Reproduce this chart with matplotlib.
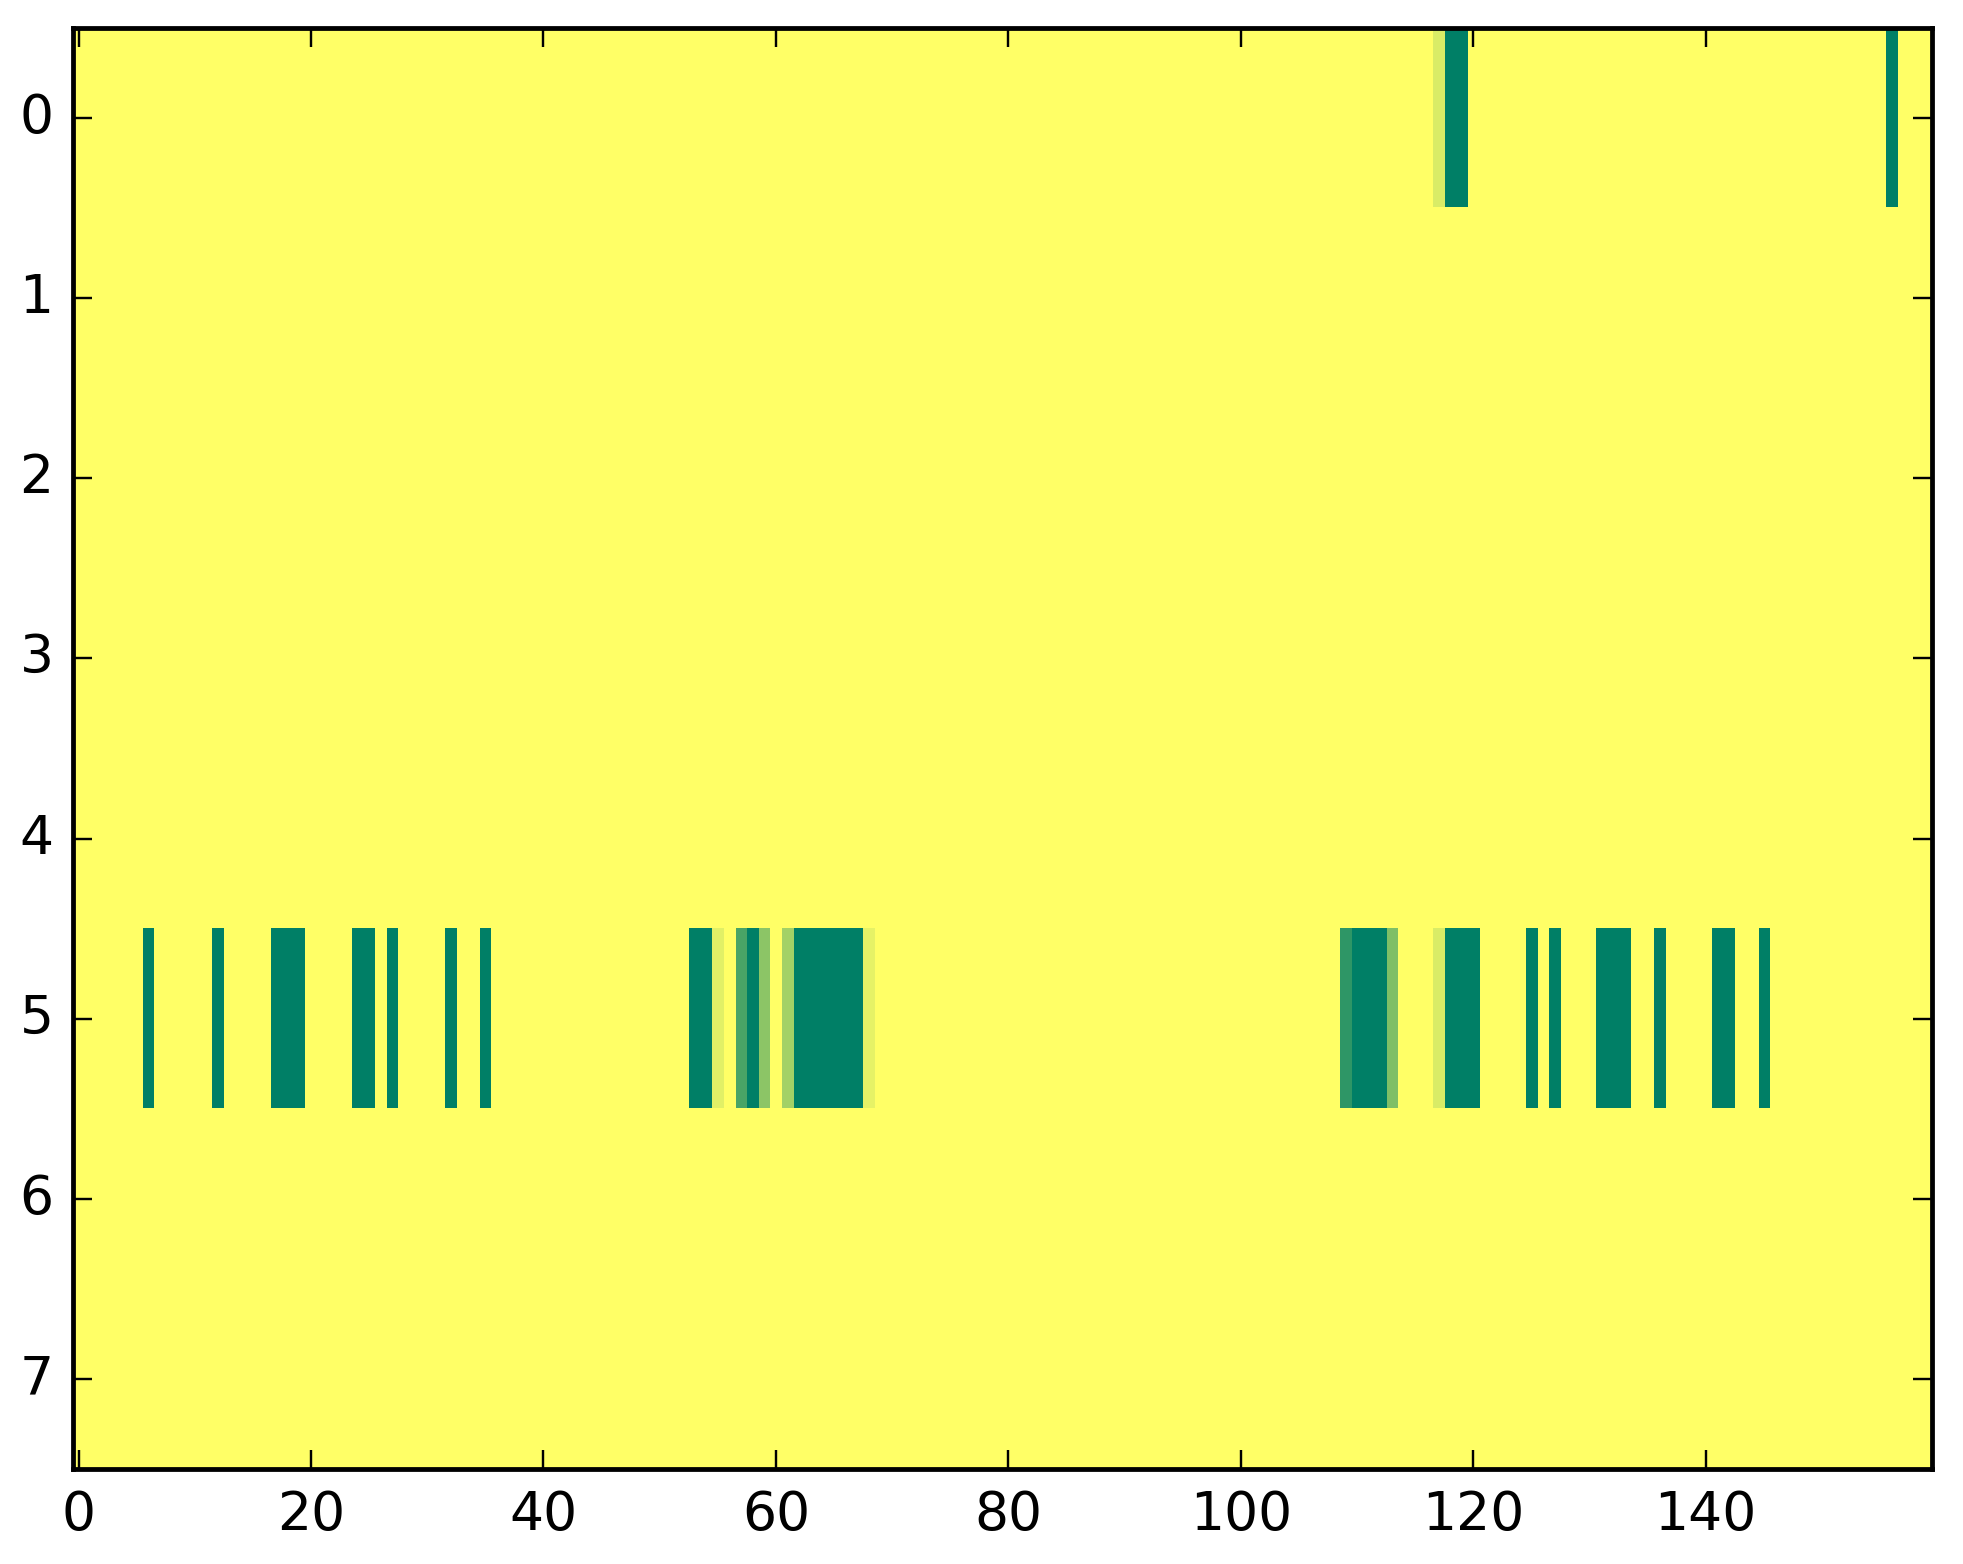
import numpy as np
import matplotlib
matplotlib.use("Agg")
import matplotlib.pyplot as plt

plt.style.use("classic")

n_rows = 8
n_cols = 160

# (row, column, value) of non-zero cells
row0_cols = [117, 118, 119, 156]
row0_vals = [0.15, 1.0, 1.0, 1.0]

row5_cols = [6, 12, 17, 18, 19, 24, 25, 27, 32, 35,
             53, 54, 55, 57, 58, 59, 61, 62, 63, 64, 65, 66, 67, 68,
             109, 110, 111, 112, 113, 117, 118, 119, 120,
             125, 127, 131, 132, 133, 136, 141, 142, 145]
row5_vals = [1.0, 1.0, 1.0, 1.0, 1.0, 1.0, 1.0, 1.0, 1.0, 1.0,
             1.0, 1.0, 0.12, 0.71, 1.0, 0.45, 0.36, 1.0, 1.0, 1.0, 1.0, 1.0, 1.0, 0.10,
             0.82, 1.0, 1.0, 1.0, 0.50, 0.15, 1.0, 1.0, 1.0,
             1.0, 1.0, 1.0, 1.0, 1.0, 1.0, 1.0, 1.0, 1.0]

data = np.zeros((n_rows, n_cols))
data[0, row0_cols] = row0_vals
data[5, row5_cols] = row5_vals

dpi = 345
fig = plt.figure(figsize=(1963 / dpi, 1564 / dpi), dpi=dpi)
ax = fig.add_axes([0.0371, 0.0605, 0.9472, 0.9219])
ax.imshow(data, cmap="summer_r", aspect="auto", interpolation="nearest",
          vmin=0, vmax=1)
ax.set_xlim(-0.5, n_cols - 0.5)
ax.set_ylim(n_rows - 0.5, -0.5)
ax.set_xticks(np.arange(0, 160, 20))
ax.set_yticks(np.arange(0, 8, 1))
ax.tick_params(labelsize=11.2)

fig.savefig("out.png", dpi=dpi)
